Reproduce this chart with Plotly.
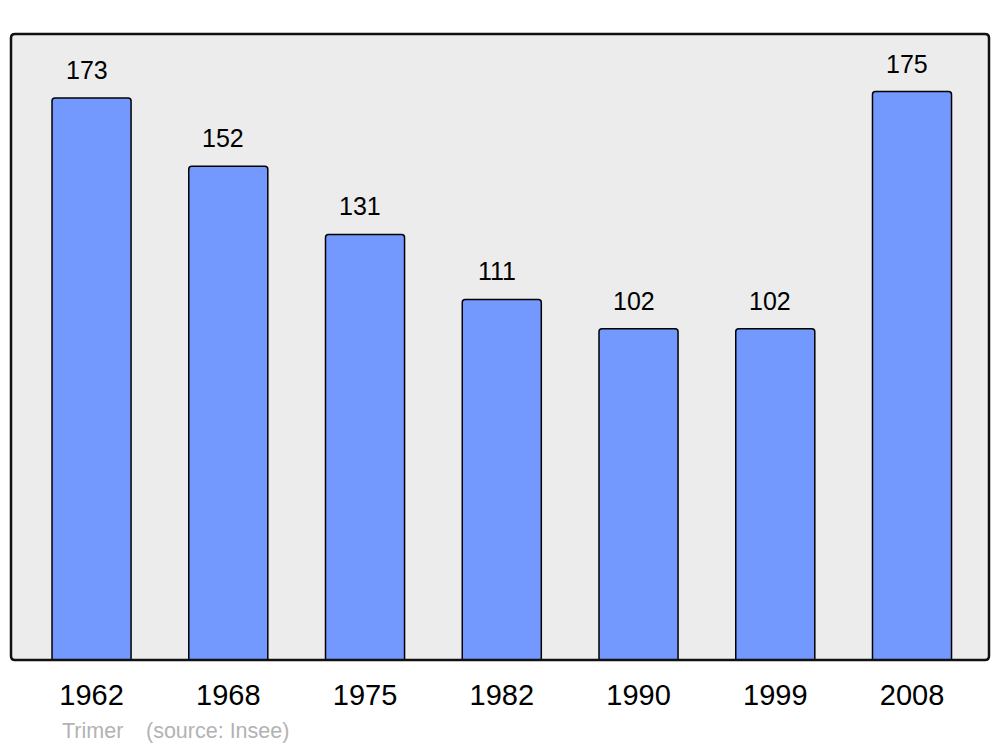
import plotly.graph_objects as go

annees = ["1962", "1968", "1975", "1982", "1990", "1999", "2008"]
population = [173, 152, 131, 111, 102, 102, 175]

x_pos = list(range(len(annees)))

fig = go.Figure()
fig.add_trace(go.Bar(
    x=x_pos, y=population, width=0.578,
    marker=dict(color="#7399ff", line=dict(color="black", width=1.5), cornerradius=3),
    hoverinfo="skip",
))

# valeurs au-dessus des barres
for xi, v in zip(x_pos, population):
    fig.add_annotation(x=xi, y=v, text=str(v), showarrow=False, yanchor="middle",
                       xshift=-5, yshift=28, font=dict(size=25, color="black"))

# cadre du graphique, coins arrondis
rx, ry = 4 / 978, 4 / 626
cadre = (f"M {rx},0 L {1-rx},0 Q 1,0 1,{ry} L 1,{1-ry} Q 1,1 {1-rx},1 "
         f"L {rx},1 Q 0,1 0,{1-ry} L 0,{ry} Q 0,0 {rx},0 Z")
fig.add_shape(type="path", xref="paper", yref="paper", path=cadre,
              line=dict(color="#111111", width=2.5), layer="above")

# pied de page
fig.add_annotation(x=0.0501, y=-0.1134, xref="paper", yref="paper", showarrow=False,
                   text="Trimer", xanchor="left", yanchor="middle",
                   font=dict(size=21.5, color="#b3b3b3"))
fig.add_annotation(x=0.136, y=-0.1134, xref="paper", yref="paper", showarrow=False,
                   text="(source: Insee)", xanchor="left", yanchor="middle",
                   font=dict(size=21.5, color="#b3b3b3"))

# la page ajoute 8 px de marge autour du graphique
fig.update_layout(
    width=984, height=739,
    margin=dict(l=3, r=3, t=26, b=87),
    paper_bgcolor="white", plot_bgcolor="#ececec",
    font=dict(family="Liberation Sans, Arial, sans-serif", color="black"),
    showlegend=False,
    xaxis=dict(range=[-0.589, 6.563], tickmode="array", tickvals=x_pos, ticktext=annees,
               showgrid=False, zeroline=False, ticks="", tickfont=dict(size=29),
               ticklabelstandoff=15, fixedrange=True),
    yaxis=dict(range=[0, 192.7], showgrid=False, zeroline=False, showticklabels=False,
               fixedrange=True),
)

fig.write_html("out.html")
